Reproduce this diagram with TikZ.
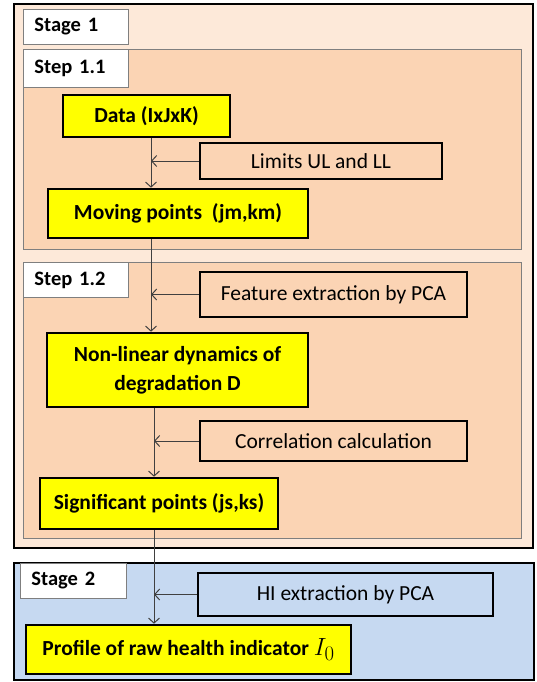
\documentclass[tikz,border=0pt]{standalone}
\usepackage{fontspec}
\setmainfont{Carlito}
\usetikzlibrary{arrows.meta}

\definecolor{stagepeach}{HTML}{FDE9D9}
\definecolor{steppeach}{HTML}{FBD4B4}
\definecolor{stageblue}{HTML}{C6D9F1}
\definecolor{boxyellow}{HTML}{FFFF00}
\definecolor{framegray}{HTML}{7F7F7F}

\tikzset{
  mainbox/.style={draw=black, line width=2.6pt, fill=boxyellow, inner sep=0pt,
    font=\fontsize{21.5}{29}\selectfont\bfseries, align=center},
  sidebox/.style={draw=black, line width=2.6pt, inner sep=0pt,
    font=\fontsize{21.5}{26}\selectfont},
  tagbox/.style={draw=framegray, line width=0.9pt, fill=white, anchor=north west,
    inner xsep=11pt, inner ysep=0pt, align=left,
    font=\fontsize{20.5}{24}\selectfont\bfseries},
  flow/.style={draw=black!75, line width=1pt, -{Straight Barb[length=5pt,width=11pt]}},
}

\begin{document}
\begin{tikzpicture}[x=1pt, y=-1pt]
  \useasboundingbox (0,0) rectangle (537,682);

  % stage and step frames
  \filldraw[fill=stagepeach, draw=black, line width=2.6pt] (14,4) rectangle (533,548);
  \filldraw[fill=steppeach, draw=framegray, line width=0.9pt] (23,49) rectangle (521,249);
  \filldraw[fill=steppeach, draw=framegray, line width=0.9pt] (23,262) rectangle (521,538);
  \filldraw[fill=stageblue, draw=black, line width=2.6pt] (14,563) rectangle (534,680);

  \node[tagbox, text width=83, minimum height=35] (stage1) at (23,9) {Stage 1};
  \node[tagbox, text width=83, minimum height=38] (step11) at (23,49) {Step 1.1};
  \node[tagbox, text width=83, minimum height=35] (step12) at (23,262) {Step 1.2};
  \node[tagbox, text width=84, minimum height=35] (stage2) at (20,563) {Stage 2};

  % main chain
  \node[mainbox, minimum width=167, minimum height=42] (data) at (146.5,116) {Data (IxJxK)};
  \node[mainbox, minimum width=260, minimum height=49] (moving) at (178,213.5) {Moving points~ (jm,km)};
  \node[mainbox, minimum width=261, minimum height=74] (nonlin) at (177.5,370) {Non-linear dynamics of\\degradation D};
  \node[mainbox, minimum width=238, minimum height=51] (signif) at (159,503.5) {Significant points (js,ks)};
  \node[mainbox, minimum width=325, minimum height=49] (profile) at (188.5,649.5)
    {Profile of raw health indicator {\fontsize{28}{30}\selectfont\mdseries$I_0$}};

  % side inputs
  \node[sidebox, minimum width=242, minimum height=36] (limits) at (321,161) {Limits UL and LL};
  \node[sidebox, minimum width=267, minimum height=45] (feature) at (333.5,294.5) {Feature extraction by PCA};
  \node[sidebox, minimum width=267, minimum height=40] (corr) at (333.5,441) {Correlation calculation};
  \node[sidebox, minimum width=295, minimum height=43] (hi) at (345.5,594.5) {HI extraction by PCA};

  \coordinate (sp1) at (151,0);
  \coordinate (sp2) at (154,0);

  \draw[flow] (data.south -| sp1) -- (moving.north -| sp1);
  \draw[flow] (limits.west) -- (limits.west -| sp1);
  \draw[flow] (moving.south -| sp1) -- (nonlin.north -| sp1);
  \draw[flow] (feature.west) -- (feature.west -| sp1);
  \draw[flow] (nonlin.south -| sp2) -- (signif.north -| sp2);
  \draw[flow] (corr.west) -- (corr.west -| sp2);
  \draw[flow] (signif.south -| sp2) -- (profile.north -| sp2);
  \draw[flow] (hi.west) -- (hi.west -| sp2);
\end{tikzpicture}
\end{document}
